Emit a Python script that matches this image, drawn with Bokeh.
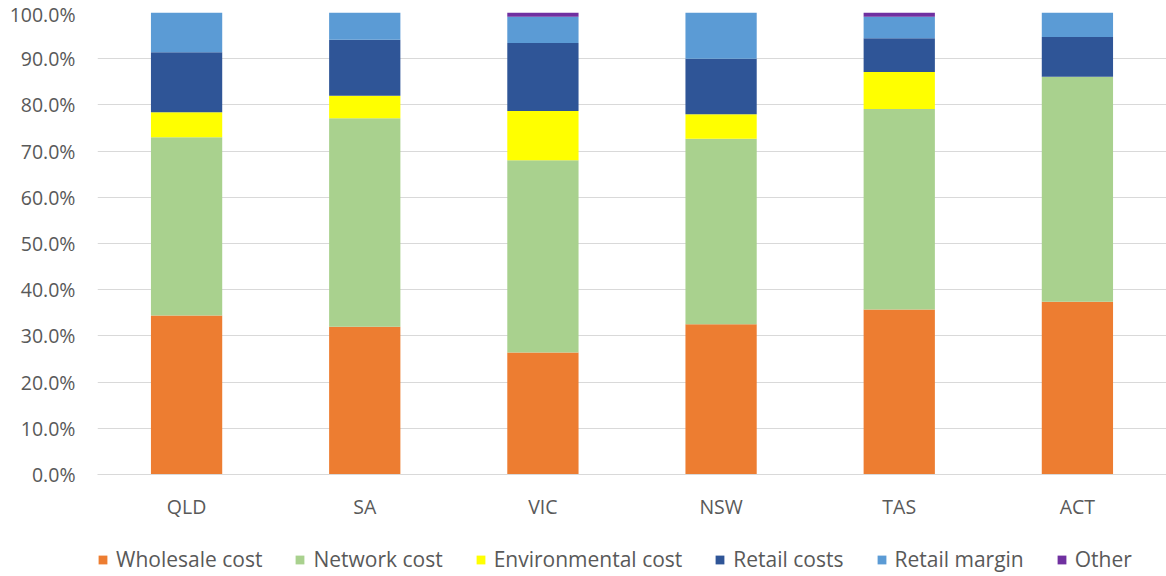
from bokeh.plotting import figure
from bokeh.layouts import column
from bokeh.models import Legend, LegendItem, FactorRange, Range1d, PrintfTickFormatter, ColumnDataSource
from bokeh.embed import file_html
from bokeh.resources import INLINE

states = ["QLD", "SA", "VIC", "NSW", "TAS", "ACT"]
series = ["Wholesale cost", "Network cost", "Environmental cost", "Retail costs", "Retail margin", "Other"]
wholesale = [34.4, 32.0, 26.4, 32.5, 35.7, 37.4]
network = [38.6, 45.1, 41.6, 40.2, 43.4, 48.7]
environmental = [5.4, 4.9, 10.7, 5.3, 8.0, 0.0]
retail_costs = [13.0, 12.1, 14.7, 12.0, 7.3, 8.6]
retail_margin = [8.6, 5.9, 5.7, 10.0, 4.7, 5.3]
other = [0.0, 0.0, 0.9, 0.0, 0.9, 0.0]
y_ticks = [0, 10, 20, 30, 40, 50, 60, 70, 80, 90, 100]

colors = ["#ED7D31", "#A9D18E", "#FFFF00", "#2F5597", "#5B9BD5", "#7030A0"]
keys = ["w", "n", "e", "rc", "rm", "o"]

source = ColumnDataSource(dict(state=states, w=wholesale, n=network, e=environmental,
                               rc=retail_costs, rm=retail_margin, o=other))

FONT = "Open Sans"
TXT = "#595959"
FS = "19.5px"

p = figure(width=1166, height=522, x_range=FactorRange(factors=states, range_padding=0),
           y_range=Range1d(0, 100), output_backend="svg", toolbar_location=None,
           min_border_left=97, min_border_right=0, min_border_top=12, min_border_bottom=48)
p.outline_line_color = None

p.vbar_stack(keys, x="state", width=0.4, color=colors, source=source, line_color=None)

p.yaxis.ticker = y_ticks
p.yaxis.formatter = PrintfTickFormatter(format="%.1f%%")
p.yaxis.axis_line_color = None
p.yaxis.major_tick_line_color = None
p.yaxis.minor_tick_line_color = None
p.yaxis.major_tick_out = 0
p.yaxis.major_tick_in = 0
p.yaxis.major_label_standoff = 22
p.yaxis.major_label_text_font = FONT
p.yaxis.major_label_text_font_size = FS
p.yaxis.major_label_text_color = TXT

p.xaxis.axis_line_color = "#D9D9D9"
p.xaxis.major_tick_line_color = None
p.xaxis.minor_tick_line_color = None
p.xaxis.major_tick_out = 0
p.xaxis.major_tick_in = 0
p.xaxis.major_label_standoff = 18
p.xaxis.major_label_text_font = FONT
p.xaxis.major_label_text_font_size = FS
p.xaxis.major_label_text_color = TXT

p.xgrid.grid_line_color = None
p.ygrid.grid_line_color = "#D9D9D9"
p.ygrid.grid_line_width = 1

# legend strip (swatch renderers sit outside the visible range)
p2 = figure(width=1166, height=54, x_range=Range1d(0, 1), y_range=Range1d(0, 1),
            output_backend="svg", toolbar_location=None,
            x_axis_location=None, y_axis_location=None,
            min_border_left=0, min_border_right=0, min_border_top=0, min_border_bottom=0)
p2.outline_line_color = None
p2.grid.visible = False
swatches = [p2.vbar(x=[5], top=[1], width=0.1, color=c, line_color=None) for c in colors]
items = [LegendItem(label=s, renderers=[r]) for s, r in zip(series, swatches)]
legend = Legend(items=items, orientation="horizontal", location=(0, 3),
                border_line_color=None, background_fill_alpha=0,
                padding=0, margin=0, spacing=32, label_standoff=8,
                glyph_width=11, glyph_height=11, label_height=20,
                label_text_font=FONT, label_text_font_size="21px", label_text_color=TXT)
p2.add_layout(legend, "center")

open("out.html", "w").write(file_html(column(p, p2, spacing=0), INLINE))
